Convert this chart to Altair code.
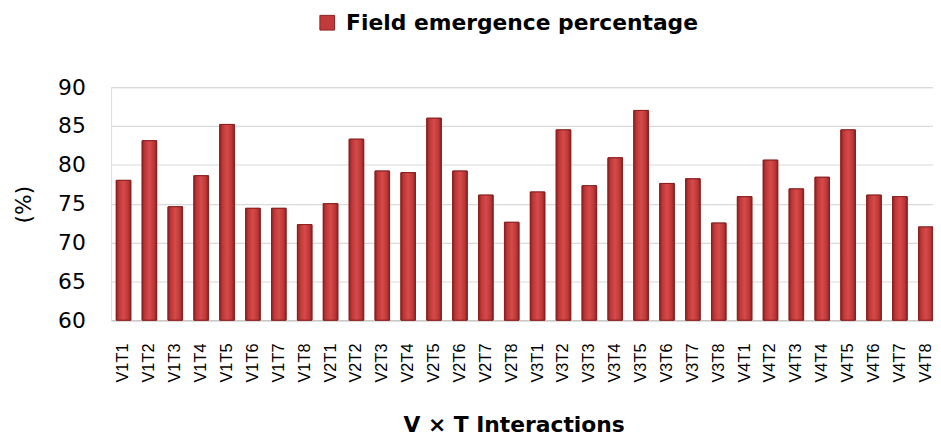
import altair as alt
import pandas as pd

categories = [f"V{v}T{t}" for v in range(1, 5) for t in range(1, 9)]
values = [78.0, 83.1, 74.6, 78.6, 85.2, 74.4, 74.4, 72.3,
          75.0, 83.3, 79.2, 79.0, 86.0, 79.2, 76.1, 72.6,
          76.5, 84.5, 77.3, 80.9, 87.0, 77.6, 78.2, 72.5,
          75.9, 80.6, 76.9, 78.4, 84.5, 76.1, 75.9, 72.0]
series_name = "Field emergence percentage"
y_ticks = [60, 65, 70, 75, 80, 85, 90]

df = pd.DataFrame({"cat": categories, "val": values, "series": [series_name] * len(values)})

x_enc = alt.X(
    "cat:N", sort=categories,
    scale=alt.Scale(paddingInner=0.44, paddingOuter=0.1, align=1),
    axis=alt.Axis(
        title="V × T Interactions", labelAngle=-90, ticks=False, labelPadding=23,
        labelFont="Liberation Sans", labelFontSize=16.5, labelColor="#000000",
        domainColor="#c8c8c8", domainWidth=1.5, grid=False,
        titleFont="DejaVu Sans", titleFontSize=22, titleFontWeight="bold",
        titleColor="#000000", titleX=406, titleY=112, titleAlign="center",
        titleBaseline="alphabetic",
    ),
)
y_enc = alt.Y(
    "val:Q",
    scale=alt.Scale(domain=[60, 90], nice=False, zero=False),
    axis=alt.Axis(
        title="(%)", values=y_ticks, tickCount=7, ticks=False, domain=False, labelPadding=26,
        labelFont="DejaVu Sans", labelFontSize=22, labelColor="#000000",
        gridColor="#d9d9d9", gridWidth=1.2,
        titleFont="DejaVu Sans", titleFontSize=22, titleFontWeight="normal",
        titleColor="#000000", titleX=-88, titleY=118, titleAlign="center",
        titleBaseline="middle",
    ),
)
y2_enc = alt.datum(60)

base = alt.Chart(df).mark_bar(stroke="#8a2020", strokeWidth=1).encode(
    x=x_enc, y=y_enc, y2=y2_enc,
    color=alt.Color("series:N", scale=alt.Scale(range=["#c23b3b"]),
                    legend=alt.Legend(
                        title=None, orient="none", legendX=207, legendY=-76,
                        symbolType="square", symbolSize=220, symbolStrokeColor="#8a2020",
                        symbolStrokeWidth=1, symbolOpacity=1, labelLimit=0,
                        labelFont="DejaVu Sans", labelFontSize=22, labelFontWeight="bold",
                        labelColor="#000000", labelOffset=8, padding=0,
                    )),
)

grad = alt.Gradient(
    gradient="linear", x1=0, x2=1, y1=0, y2=0,
    stops=[
        alt.GradientStop(offset=0, color="#8c2121"),
        alt.GradientStop(offset=0.18, color="#bd3737"),
        alt.GradientStop(offset=0.5, color="#d64a4a"),
        alt.GradientStop(offset=0.82, color="#bd3737"),
        alt.GradientStop(offset=1, color="#8c2121"),
    ],
)
top = alt.Chart(df).mark_bar(fill=grad, stroke="#8a2020", strokeWidth=1).encode(
    x=x_enc, y=y_enc, y2=y2_enc
)

chart = alt.layer(base, top).properties(
    width=829, height=235,
    autosize=alt.AutoSizeParams(type="none"),
    padding={"left": 104, "top": 78, "right": 0, "bottom": 115},
).configure_view(stroke=None).configure(background="white")

chart.save("out.html", embed_options={"renderer": "svg", "actions": False})
